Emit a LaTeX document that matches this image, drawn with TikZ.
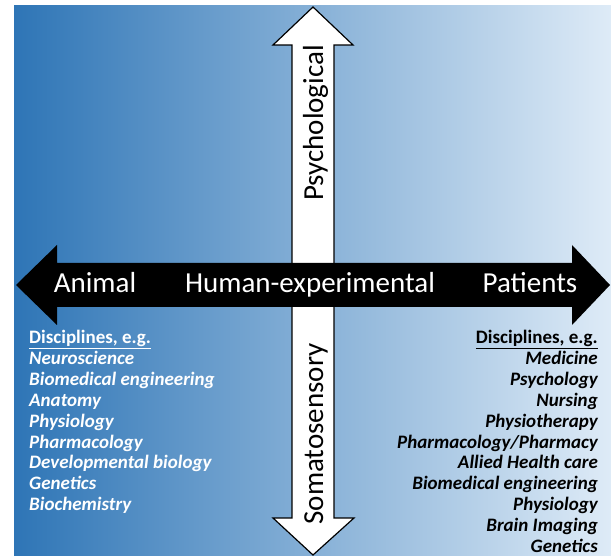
\documentclass[tikz,border=0pt]{standalone}
\usepackage{fontspec}
\setmainfont{Carlito}
\definecolor{bgleft}{RGB}{46,117,182}
\definecolor{bgright}{RGB}{222,235,247}
\begin{document}
\begin{tikzpicture}[x=1pt,y=-1pt,
  biglabel/.style={font=\fontsize{29}{34}\selectfont, inner sep=0pt, anchor=base},
  listbox/.style={inner sep=0pt, font=\fontsize{19}{20.9}\selectfont\bfseries},
  axisline/.style={line width=1.2pt, line join=miter}]
\useasboundingbox (0,0) rectangle (611,556);
% background gradient
\shade[left color=bgleft, right color=bgright] (14,6) rectangle (611,556);

% vertical double arrow (white)
\coordinate (vtop) at (313,7);
\coordinate (vbot) at (313,555);
\draw[axisline, fill=white]
  (vtop) -- (353,45) -- (334,45) -- (334,518) -- (354,518) -- (vbot)
  -- (273,518) -- (292,518) -- (292,45) -- (273,45) -- cycle;

% horizontal double arrow (black)
\coordinate (hleft) at (16,285);
\coordinate (hright) at (610,285);
\fill[black]
  (hleft) -- (57,245) -- (57,263) -- (572,263) -- (572,245) -- (hright)
  -- (572,325) -- (572,307) -- (57,307) -- (57,325) -- cycle;

% axis labels
\node[biglabel, text=white] (animal) at (95,293) {Animal};
\node[biglabel, text=white] (human) at (310,293) {Human-experimental};
\node[biglabel, text=white] (patients) at (530,293) {Patients};
\node[biglabel, rotate=90] (psych) at (323,123) {Psychological};
\node[biglabel, rotate=90] (soma) at (323,434) {Somatosensory};

% discipline lists
\node[listbox, text=white, anchor=north west, align=left] (leftlist) at (29,330) {%
  \underline{Disciplines, e.g.}\\
  \itshape Neuroscience\\
  \itshape Biomedical engineering\\
  \itshape Anatomy\\
  \itshape Physiology\\
  \itshape Pharmacology\\
  \itshape Developmental biology\\
  \itshape Genetics\\
  \itshape Biochemistry};
\node[listbox, text=black, anchor=north east, align=right] (rightlist) at (598,330) {%
  \underline{Disciplines, e.g.}\\
  \itshape Medicine\\
  \itshape Psychology\\
  \itshape Nursing\\
  \itshape Physiotherapy\\
  \itshape Pharmacology/Pharmacy\\
  \itshape Allied Health care\\
  \itshape Biomedical engineering\\
  \itshape Physiology\\
  \itshape Brain Imaging\\
  \itshape Genetics};
\end{tikzpicture}
\end{document}
